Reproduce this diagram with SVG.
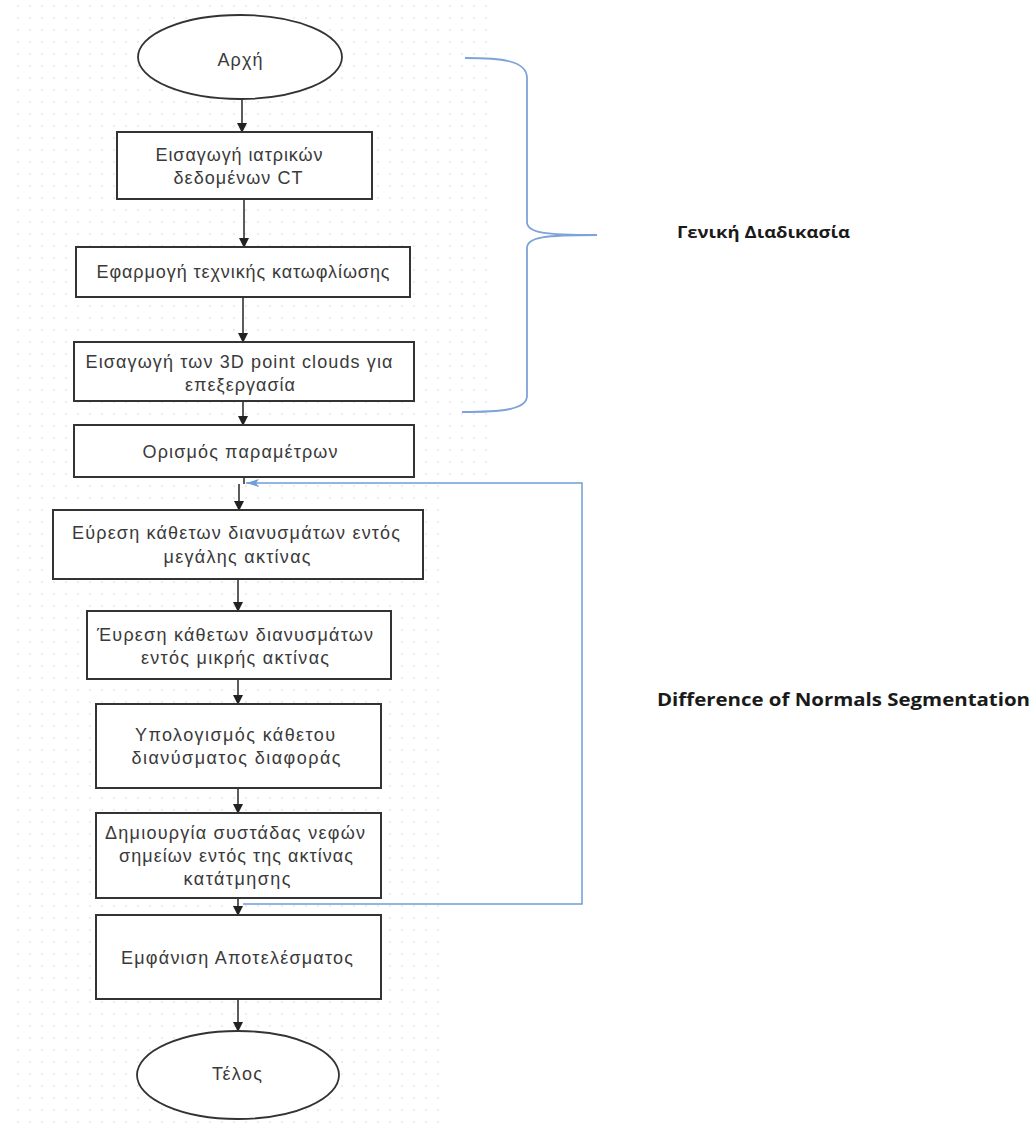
<svg xmlns="http://www.w3.org/2000/svg" width="1035" height="1130" viewBox="0 0 1035 1130">
<style>
.box{fill:#fff;stroke:#333;stroke-width:2}
.term{fill:#fff;stroke:#333;stroke-width:1.8}
.t{font-family:"Liberation Sans",Arial,sans-serif;font-size:18px;fill:#3a3a3a;text-anchor:middle;dominant-baseline:central}
.lbl{font-family:"Open Sans","Noto Sans",sans-serif;font-weight:bold;fill:#1a1a1a}
.arr{fill:none;stroke:#333;stroke-width:1.6;marker-end:url(#ah)}
.blue{fill:none;stroke:#6f9fd6;stroke-width:1.5}
</style>
<defs>
<marker id="ah" markerWidth="10" markerHeight="10" refX="9" refY="5" orient="auto" markerUnits="userSpaceOnUse">
<path d="M0,0 L10,5 L0,10 Z" fill="#222"/>
</marker>
<marker id="bh" markerWidth="14" markerHeight="10" refX="13" refY="5" orient="auto" markerUnits="userSpaceOnUse">
<path d="M0,1 L13,5 L0,9 L3,5 Z" fill="#6f9fd6"/>
</marker>
<pattern id="dots" width="12" height="12" patternUnits="userSpaceOnUse">
<circle cx="6" cy="6" r="0.8" fill="#d4d4d4"/>
</pattern>
</defs>
<rect width="1035" height="1130" fill="#fff"/>
<rect x="10" y="5" width="478" height="478" fill="url(#dots)"/>
<rect x="10" y="483" width="432" height="642" fill="url(#dots)"/>

<g id="connectors">
<line class="arr" x1="242" y1="99" x2="242" y2="132"/>
<line class="arr" x1="244" y1="199" x2="244" y2="247"/>
<line class="arr" x1="243" y1="297" x2="243" y2="342"/>
<line class="arr" x1="243" y1="401" x2="243" y2="425"/>
<line x1="244" y1="477" x2="244" y2="484" stroke="#333" stroke-width="1.6"/>
<line class="arr" x1="239" y1="484" x2="239" y2="510"/>
<line class="arr" x1="238" y1="579" x2="238" y2="611"/>
<line class="arr" x1="238" y1="679" x2="238" y2="704"/>
<line class="arr" x1="238" y1="788" x2="238" y2="813"/>
<line class="arr" x1="238" y1="898" x2="238" y2="915"/>
<line class="arr" x1="238" y1="999" x2="238" y2="1031"/>
<path class="blue" d="M243,904 H582 V483 H246" marker-end="url(#bh)"/>
<path id="brace" fill="none" stroke="#7ea3d6" stroke-width="1.8" d="M465,58 C500,58 527,60 527,78 V222 C527,233 545,235 597,235 C545,235 527,237 527,248 V396 C527,410 500,412 462,412"/>
</g>

<g id="start">
<ellipse class="term" cx="240" cy="57" rx="102" ry="42"/>
<text class="t" x="240" y="60" textLength="45" lengthAdjust="spacing">Αρχή</text>
</g>
<g id="n1">
<rect class="box" x="117" y="132" width="255" height="67"/>
<text class="t" x="239" y="155" textLength="167" lengthAdjust="spacing">Εισαγωγή ιατρικών</text>
<text class="t" x="238" y="178" textLength="129" lengthAdjust="spacing">δεδομένων CT</text>
</g>
<g id="n2">
<rect class="box" x="76" y="247" width="334" height="50"/>
<text class="t" x="243" y="272" textLength="293" lengthAdjust="spacing">Εφαρμογή τεχνικής κατωφλίωσης</text>
</g>
<g id="n3">
<rect class="box" x="74" y="342" width="340" height="59"/>
<text class="t" x="239" y="362" textLength="307" lengthAdjust="spacing">Εισαγωγή των 3D point clouds για</text>
<text class="t" x="240" y="385" textLength="110" lengthAdjust="spacing">επεξεργασία</text>
</g>
<g id="n4">
<rect class="box" x="74" y="425" width="340" height="52"/>
<text class="t" x="240" y="452" textLength="195" lengthAdjust="spacing">Ορισμός παραμέτρων</text>
</g>
<g id="n5">
<rect class="box" x="53" y="510" width="370" height="69"/>
<text class="t" x="236" y="533" textLength="328" lengthAdjust="spacing">Εύρεση κάθετων διανυσμάτων εντός</text>
<text class="t" x="237" y="557" textLength="147" lengthAdjust="spacing">μεγάλης ακτίνας</text>
</g>
<g id="n6">
<rect class="box" x="87" y="611" width="304" height="68"/>
<text class="t" x="235" y="635" textLength="276" lengthAdjust="spacing">Έυρεση κάθετων διανυσμάτων</text>
<text class="t" x="235" y="658" textLength="188" lengthAdjust="spacing">εντός μικρής ακτίνας</text>
</g>
<g id="n7">
<rect class="box" x="96" y="704" width="285" height="84"/>
<text class="t" x="235" y="735" textLength="200" lengthAdjust="spacing">Υπολογισμός κάθετου</text>
<text class="t" x="236" y="758" textLength="209" lengthAdjust="spacing">διανύσματος διαφοράς</text>
</g>
<g id="n8">
<rect class="box" x="96" y="813" width="285" height="85"/>
<text class="t" x="235" y="833" textLength="260" lengthAdjust="spacing">Δημιουργία συστάδας νεφών</text>
<text class="t" x="236" y="856" textLength="234" lengthAdjust="spacing">σημείων εντός της ακτίνας</text>
<text class="t" x="237" y="879" textLength="107" lengthAdjust="spacing">κατάτμησης</text>
</g>
<g id="n9">
<rect class="box" x="96" y="915" width="285" height="84"/>
<text class="t" x="237" y="958" textLength="232" lengthAdjust="spacing">Εμφάνιση Αποτελέσματος</text>
</g>
<g id="end">
<ellipse class="term" cx="238" cy="1075" rx="101" ry="44"/>
<text class="t" x="237" y="1074" textLength="50" lengthAdjust="spacing">Τέλος</text>
</g>

<g id="labels">
<text class="lbl" x="677" y="238" font-size="16" textLength="173" lengthAdjust="spacingAndGlyphs">Γενική Διαδικασία</text>
<text class="lbl" x="657" y="706" font-size="18" textLength="373" lengthAdjust="spacingAndGlyphs">Difference of Normals Segmentation</text>
</g>
</svg>
